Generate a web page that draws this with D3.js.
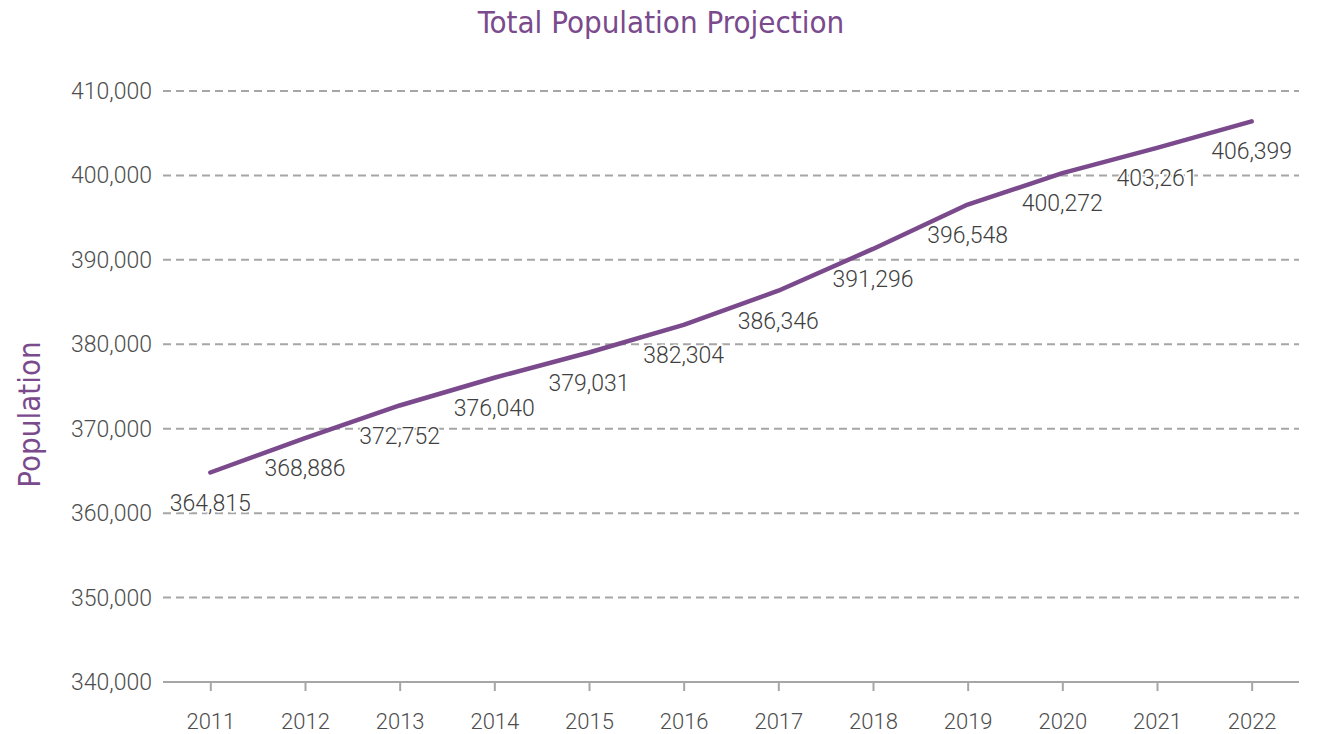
<!DOCTYPE html>
<html>
<head>
<meta charset="utf-8">
<script src="https://cdn.jsdelivr.net/npm/d3@7"></script>
<style>
    body { margin: 0; background: #fff; }
    svg text { font-family: Roboto, "Liberation Sans", sans-serif; font-weight: 300; }
    .narrow { font-family: "Liberation Sans Narrow", "DejaVu Sans Condensed", "Roboto", sans-serif; font-weight: normal; }
</style>
</head>
<body>
<div id="chart"></div>
<script>
    const years = ["2011", "2012", "2013", "2014", "2015", "2016", "2017", "2018", "2019", "2020", "2021", "2022"];
    const population = [364815, 368886, 372752, 376040, 379031, 382304, 386346, 391296, 396548, 400272, 403261, 406399];
    const yTicks = [340000, 350000, 360000, 370000, 380000, 390000, 400000, 410000];

    const width = 1319;
    const height = 734;
    const margin = { top: 91, right: 20, bottom: 52, left: 163 };
    const purple = "#7a4a8d";
    const grey = "#a6a6a6";

    const svg = d3.select("#chart")
        .append("svg")
        .attr("width", width)
        .attr("height", height);

    const x = d3.scalePoint()
        .domain(years)
        .range([margin.left, width - margin.right])
        .padding(0.5);

    const y = d3.scaleLinear()
        .domain([340000, 410000])
        .range([height - margin.bottom, margin.top]);

    const fmt = d3.format(",");

    // gridlines
    svg.append("g")
        .selectAll("line")
        .data(yTicks.slice(1))
        .enter()
        .append("line")
        .attr("x1", margin.left)
        .attr("x2", width - margin.right)
        .attr("y1", d => y(d))
        .attr("y2", d => y(d))
        .attr("stroke", grey)
        .attr("stroke-width", 2)
        .attr("stroke-dasharray", "8,5");

    // y tick labels
    svg.append("g")
        .selectAll("text")
        .data(yTicks)
        .enter()
        .append("text")
        .attr("x", margin.left - 11)
        .attr("y", d => y(d))
        .attr("dy", "0.35em")
        .attr("text-anchor", "end")
        .attr("fill", "#4d4d4d")
        .style("font-size", "23px")
        .text(d => fmt(d));

    // x axis
    const xAxis = svg.append("g")
        .attr("transform", `translate(0,${height - margin.bottom})`)
        .call(d3.axisBottom(x).tickSizeInner(9).tickSizeOuter(0).tickPadding(22));
    xAxis.select(".domain")
        .attr("d", `M${margin.left},0H${width - margin.right}`)
        .attr("stroke", grey)
        .attr("stroke-width", 2);
    xAxis.selectAll(".tick line").attr("stroke", grey).attr("stroke-width", 2);
    xAxis.selectAll(".tick text")
        .attr("fill", "#4d4d4d")
        .style("font-size", "22px")
        .style("font-family", "Roboto, 'Liberation Sans', sans-serif")
        .style("font-weight", 300);

    // line
    const line = d3.line()
        .x((d, i) => x(years[i]))
        .y(d => y(d));

    svg.append("path")
        .datum(population)
        .attr("d", line)
        .attr("fill", "none")
        .attr("stroke", purple)
        .attr("stroke-width", 4.5)
        .attr("stroke-linecap", "round")
        .attr("stroke-linejoin", "round");

    // value labels
    svg.append("g")
        .selectAll("text")
        .data(population)
        .enter()
        .append("text")
        .attr("x", (d, i) => x(years[i]))
        .attr("y", d => y(d) + 30)
        .attr("dy", "0.35em")
        .attr("text-anchor", "middle")
        .attr("fill", "#404040")
        .attr("stroke", "#fff")
        .attr("stroke-width", 3)
        .attr("paint-order", "stroke")
        .style("font-size", "23px")
        .text(d => fmt(d));

    // title
    svg.append("text")
        .attr("class", "narrow")
        .attr("x", 661)
        .attr("y", 33)
        .attr("text-anchor", "middle")
        .attr("fill", purple)
        .style("font-size", "31px")
        .text("Total Population Projection");

    // y axis title
    svg.append("text")
        .attr("class", "narrow")
        .attr("transform", `translate(40,${(margin.top + height - margin.bottom) / 2 + 28}) rotate(-90)`)
        .attr("text-anchor", "middle")
        .attr("fill", purple)
        .style("font-size", "31px")
        .text("Population");
</script>
</body>
</html>
